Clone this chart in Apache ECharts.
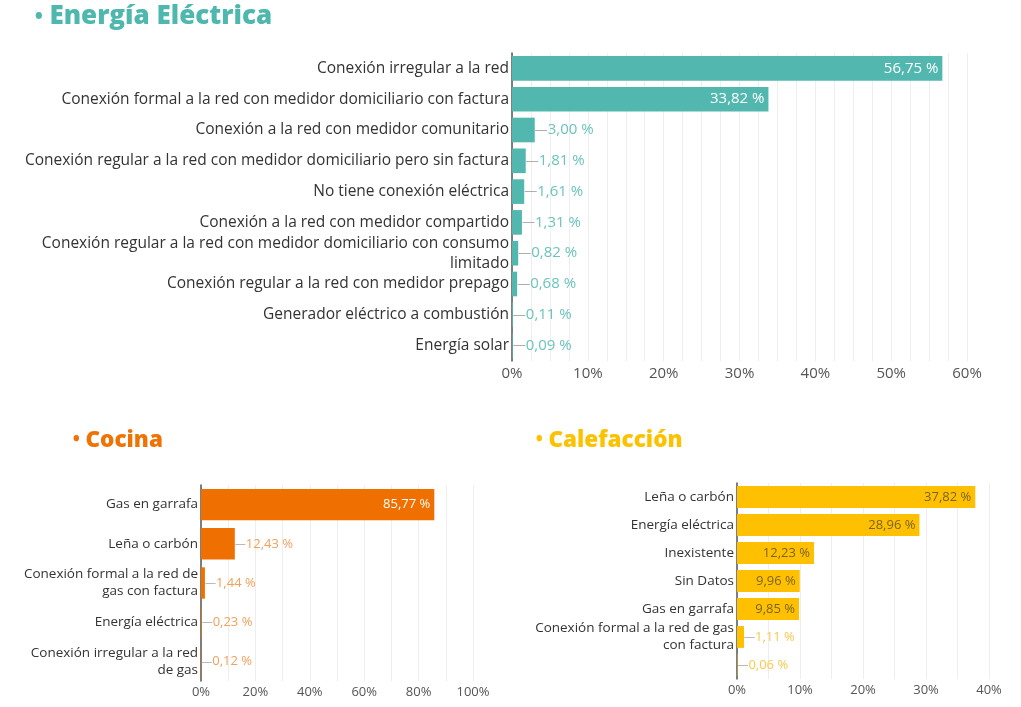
<!DOCTYPE html>
<html>
<head>
<meta charset="utf-8">
<script src="https://cdn.jsdelivr.net/npm/echarts@6/dist/echarts.min.js"></script>
<style>
  html, body { margin: 0; padding: 0; background: #fff; }
  #chart { width: 1021px; height: 707px; }
</style>
</head>
<body>
<div id="chart"></div>
<script>
// Energía Eléctrica
const energiaCats = [
  'Conexión irregular a la red',
  'Conexión formal a la red con medidor domiciliario con factura',
  'Conexión a la red con medidor comunitario',
  'Conexión regular a la red con medidor domiciliario pero sin factura',
  'No tiene conexión eléctrica',
  'Conexión a la red con medidor compartido',
  'Conexión regular a la red con medidor domiciliario con consumo\nlimitado',
  'Conexión regular a la red con medidor prepago',
  'Generador eléctrico a combustión',
  'Energía solar'
]
const energiaVals = [56.75, 33.82, 3.00, 1.81, 1.61, 1.31, 0.82, 0.68, 0.11, 0.09]

// Cocina
const cocinaCats = [
  'Gas en garrafa',
  'Leña o carbón',
  'Conexión formal a la red de\ngas con factura',
  'Energía eléctrica',
  'Conexión irregular a la red\nde gas'
]
const cocinaVals = [85.77, 12.43, 1.44, 0.23, 0.12]

// Calefacción
const calefCats = [
  'Leña o carbón',
  'Energía eléctrica',
  'Inexistente',
  'Sin Datos',
  'Gas en garrafa',
  'Conexión formal a la red de gas\ncon factura',
  ''
]
const calefVals = [37.82, 28.96, 12.23, 9.96, 9.85, 1.11, 0.06]

const FONT = 'Open Sans'

function fmt(v) {
  return v.toFixed(2).replace('.', ',') + ' %'
}

function buildData(vals, threshold, insideColor, outsideColor, size) {
  return vals.map(v => {
    if (v >= threshold) {
      return {
        value: v,
        label: {
          show: true, position: 'insideRight', distance: 4,
          color: insideColor, fontSize: size, fontFamily: FONT,
          formatter: p => fmt(p.value)
        }
      }
    }
    return {
      value: v,
      label: {
        show: true, position: 'right', distance: 0,
        fontFamily: FONT,
        formatter: p => '{l|—}{v|' + fmt(p.value) + '}',
        rich: {
          l: { color: '#aaaaaa', fontSize: size - 2, fontFamily: FONT },
          v: { color: outsideColor, fontSize: size, fontFamily: FONT }
        }
      }
    }
  })
}

function xAxisOf(gridIndex, max, interval, minor, size) {
  return {
    gridIndex, type: 'value', min: 0, max, interval,
    axisLine: { show: false },
    axisTick: { show: false },
    axisLabel: { formatter: '{value}%', color: '#555', fontSize: size, fontFamily: FONT, margin: 5 },
    splitLine: { show: true, lineStyle: { color: '#eeeeee', width: 1 } },
    minorTick: { show: false, splitNumber: minor },
    minorSplitLine: { show: true, lineStyle: { color: '#eeeeee', width: 1 } }
  }
}

function yAxisOf(gridIndex, cats, fontSize, lineHeight) {
  return {
    gridIndex, type: 'category', inverse: true, data: cats,
    axisLine: { show: true, lineStyle: { color: '#555', width: 1.5 } },
    axisTick: { show: false },
    axisLabel: { color: '#333', fontSize, fontFamily: FONT, margin: 3, lineHeight, align: 'right' }
  }
}

function titleOf(text, color, left, top, size) {
  return {
    text: '{b|•} ' + text,
    left, top,
    textStyle: {
      color, fontSize: size, fontWeight: 800, fontFamily: FONT,
      rich: { b: { color, fontSize: size * 0.75, fontWeight: 800, fontFamily: FONT } }
    }
  }
}

const chart = echarts.init(document.getElementById('chart'))
chart.setOption({
  animation: false,
  title: [
    titleOf('Energía Eléctrica', '#4fb8ae', 30, -1, 26),
    titleOf('Cocina', '#ef7204', 68, 424, 22.5),
    titleOf('Calefacción', '#fcc200', 531, 424, 22.5)
  ],
  grid: [
    { left: 512, top: 53, width: 455, height: 308 },
    { left: 201, top: 485, width: 272, height: 196 },
    { left: 737, top: 483, width: 252, height: 196 }
  ],
  xAxis: [
    xAxisOf(0, 60, 10, 4, 15),
    xAxisOf(1, 100, 20, 2, 13),
    xAxisOf(2, 40, 10, 2, 13)
  ],
  yAxis: [
    yAxisOf(0, energiaCats, 15.5, 20),
    yAxisOf(1, cocinaCats, 13.5, 17),
    yAxisOf(2, calefCats, 13.5, 17)
  ],
  series: [
    {
      type: 'bar', xAxisIndex: 0, yAxisIndex: 0, barWidth: '80%',
      itemStyle: { color: '#52b8af' },
      data: buildData(energiaVals, 10, '#ffffff', '#6cc4bc', 15)
    },
    {
      type: 'bar', xAxisIndex: 1, yAxisIndex: 1, barWidth: '80%',
      itemStyle: { color: '#ef7000' },
      data: buildData(cocinaVals, 20, '#ffffff', '#f3a05a', 13)
    },
    {
      type: 'bar', xAxisIndex: 2, yAxisIndex: 2, barWidth: '78%',
      itemStyle: { color: '#fec000' },
      data: buildData(calefVals, 5, '#7a6420', '#fcc84a', 13)
    }
  ]
})
</script>
</body>
</html>
